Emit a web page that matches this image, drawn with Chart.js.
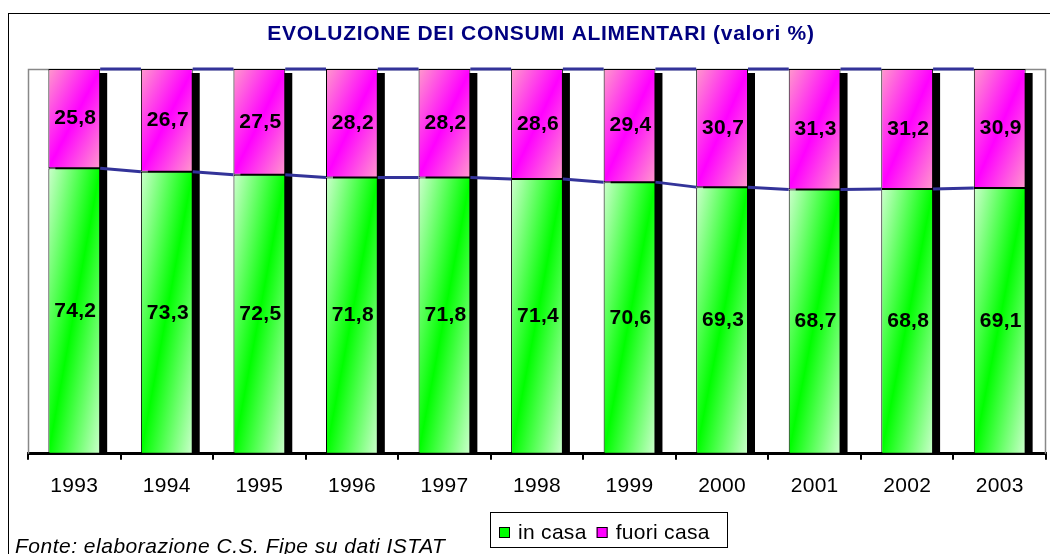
<!DOCTYPE html>
<html>
<head>
<meta charset="utf-8">
<script src="https://cdn.jsdelivr.net/npm/chart.js@4.4.0/dist/chart.umd.min.js"></script>
<style>
  body { margin: 0; background: #fff; }
  .wrap { width: 1050px; height: 554px; }
</style>
</head>
<body>
<div class="wrap"><canvas id="myChart"></canvas></div>
<script>
const anni = ['1993', '1994', '1995', '1996', '1997', '1998', '1999', '2000', '2001', '2002', '2003'];
const inCasa = [74.2, 73.3, 72.5, 71.8, 71.8, 71.4, 70.6, 69.3, 68.7, 68.8, 69.1];
const fuoriCasa = [25.8, 26.7, 27.5, 28.2, 28.2, 28.6, 29.4, 30.7, 31.3, 31.2, 30.9];
const serie = ['in casa', 'fuori casa'];
const titolo = 'EVOLUZIONE DEI CONSUMI ALIMENTARI (valori %)';
const fonte = 'Fonte: elaborazione C.S. Fipe su dati ISTAT';

const FONT = "'Liberation Sans', Arial, sans-serif";
const BAR_PCT = 0.56;
const chiari = ['#ccffcc', '#ff99cc'];
const scuri = ['#00ff00', '#ff00ff'];

// gradiente diagonale come in Excel: chiaro negli angoli, pieno sulla diagonale
function gradiente(ctx) {
  const chart = ctx.chart, d = ctx.datasetIndex;
  if (!chart.chartArea || ctx.dataIndex === undefined) return scuri[d];
  const xs = chart.scales.x, ys = chart.scales.y, i = ctx.dataIndex;
  const base = d === 0 ? 0 : inCasa[i];
  const val = d === 0 ? inCasa[i] : fuoriCasa[i];
  const w = xs.width / anni.length * BAR_PCT;
  const cx = xs.getPixelForValue(i);
  const yTop = ys.getPixelForValue(base + val), yBot = ys.getPixelForValue(base);
  const h = yBot - yTop, cy = (yTop + yBot) / 2;
  const n = Math.sqrt(w * w + h * h), L = w * h / n;
  const dx = h / n * L, dy = w / n * L;
  const g = chart.ctx.createLinearGradient(cx - dx, cy - dy, cx + dx, cy + dy);
  g.addColorStop(0, chiari[d]);
  g.addColorStop(0.5, scuri[d]);
  g.addColorStop(1, chiari[d]);
  return g;
}

const decorazioni = {
  id: 'decorazioni',
  beforeDraw(chart) {
    const c = chart.ctx;
    c.letterSpacing = '0.3px';
    c.save();
    c.fillStyle = '#fff';
    c.fillRect(0, 0, chart.width, chart.height);
    c.strokeStyle = '#000';
    c.lineWidth = 1;
    c.strokeRect(8.5, 13.5, chart.width + 20, chart.height + 20);
    c.restore();
  },
  beforeDatasetsDraw(chart) {
    const c = chart.ctx, a = chart.chartArea;
    const bassi = chart.getDatasetMeta(0).data, alti = chart.getDatasetMeta(1).data;
    c.save();
    c.strokeStyle = '#888';
    c.lineWidth = 1.5;
    c.beginPath();
    c.moveTo(a.left + 0.5, a.bottom);
    c.lineTo(a.left + 0.5, a.top + 0.5);
    c.lineTo(a.right - 0.5, a.top + 0.5);
    c.lineTo(a.right - 0.5, a.bottom);
    c.stroke();
    c.beginPath();
    c.rect(a.left, a.top, a.right - a.left, a.bottom - a.top);
    c.clip();
    c.fillStyle = '#000';
    alti.forEach((el, i) => {
      const w = el.width;
      c.fillRect(el.x - w / 2 + 7, el.y + 4, w, bassi[i].base - el.y);
    });
    c.restore();
  },
  afterDatasetsDraw(chart) {
    const c = chart.ctx;
    const metas = [chart.getDatasetMeta(0).data, chart.getDatasetMeta(1).data];
    c.save();
    // linee di serie
    c.strokeStyle = '#333399';
    c.lineWidth = 3;
    metas.forEach(bars => {
      for (let i = 0; i < bars.length - 1; i++) {
        const a = bars[i], b = bars[i + 1];
        c.beginPath();
        c.moveTo(a.x + a.width / 2, a.y);
        c.lineTo(b.x - b.width / 2, b.y);
        c.stroke();
      }
    });
    // etichette dei valori
    c.fillStyle = '#000';
    c.font = 'bold 21px ' + FONT;
    c.textAlign = 'center';
    c.textBaseline = 'middle';
    [inCasa, fuoriCasa].forEach((vals, d) => {
      metas[d].forEach((el, i) => {
        c.fillText(vals[i].toFixed(1).replace('.', ','), el.x + 1, (el.y + el.base) / 2);
      });
    });
    c.restore();
  },
  afterDraw(chart) {
    const c = chart.ctx;
    c.save();
    // titolo
    c.letterSpacing = '0.7px';
    c.font = 'bold 21px ' + FONT;
    c.fillStyle = '#000080';
    c.textAlign = 'center';
    c.textBaseline = 'middle';
    c.fillText(titolo, 541, 34);
    // legenda
    c.letterSpacing = '0.3px';
    c.textAlign = 'left';
    c.strokeStyle = '#000';
    c.lineWidth = 1;
    c.strokeRect(490.5, 512.5, 237, 35);
    c.font = '21px ' + FONT;
    c.textBaseline = 'alphabetic';
    let x = 499;
    serie.forEach((nome, k) => {
      c.fillStyle = scuri[k];
      c.fillRect(x, 527, 11, 11);
      c.strokeRect(x + 0.5, 527.5, 10, 10);
      c.fillStyle = '#000';
      c.fillText(nome, x + 19, 539);
      x += 19 + c.measureText(nome).width + 10;
    });
    // fonte
    c.letterSpacing = '0.5px';
    c.font = 'italic 21px ' + FONT;
    c.fillText(fonte, 15, 553);
    c.restore();
  }
};

new Chart(document.getElementById('myChart'), {
  type: 'bar',
  data: {
    labels: anni,
    datasets: [
      { label: serie[0], data: inCasa, backgroundColor: gradiente, borderColor: '#000', borderWidth: 1,
        borderSkipped: false, barPercentage: BAR_PCT, categoryPercentage: 1 },
      { label: serie[1], data: fuoriCasa, backgroundColor: gradiente, borderColor: '#000', borderWidth: 1,
        borderSkipped: false, barPercentage: BAR_PCT, categoryPercentage: 1 }
    ]
  },
  options: {
    responsive: true,
    maintainAspectRatio: false,
    animation: false,
    events: [],
    layout: { padding: { top: 69, left: 28, right: 4, bottom: 41 } },
    scales: {
      x: {
        stacked: true,
        grid: { offset: true, drawOnChartArea: false, drawTicks: true, tickLength: 6, color: '#000', lineWidth: 2 },
        border: { display: true, color: '#000', width: 3 },
        ticks: { color: '#000', font: { family: FONT, size: 21 }, padding: 14, autoSkip: false, maxRotation: 0 }
      },
      y: { stacked: true, min: 0, max: 100, display: false }
    },
    plugins: {
      legend: { display: false },
      tooltip: { enabled: false },
      title: { display: false }
    }
  },
  plugins: [decorazioni]
});
</script>
</body>
</html>
